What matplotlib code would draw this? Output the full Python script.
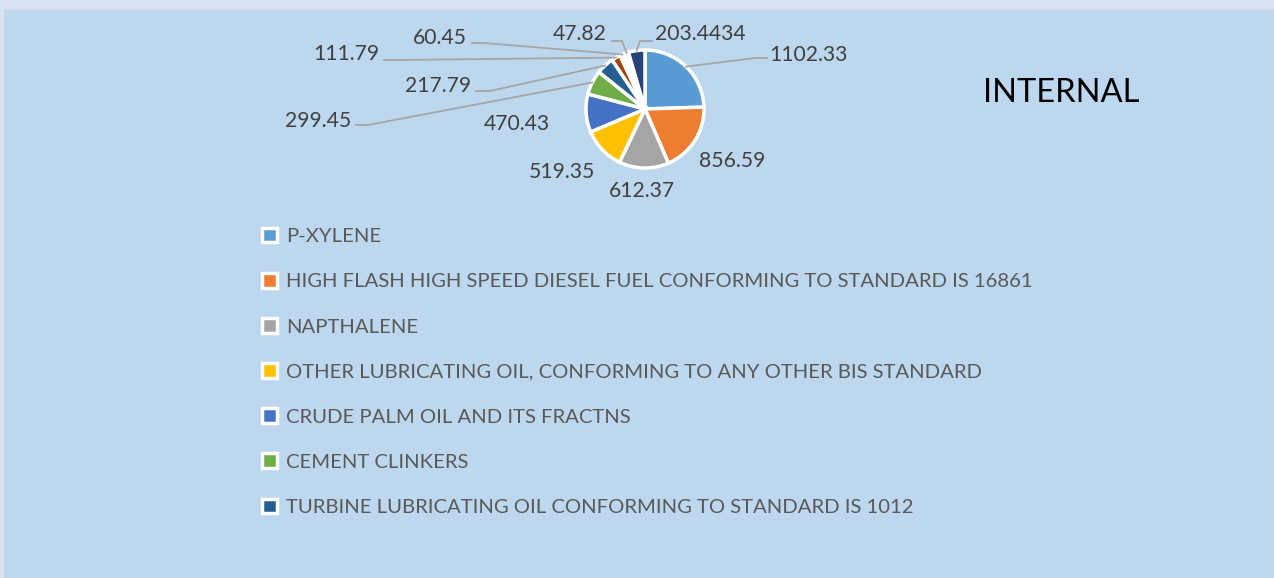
import matplotlib
matplotlib.use("Agg")
import matplotlib.pyplot as plt
from matplotlib.patches import Rectangle
import numpy as np

plt.rcParams['font.family'] = ['Lato', 'DejaVu Sans']

# ---- data ----
categories = [
    "P-XYLENE",
    "HIGH FLASH HIGH SPEED DIESEL FUEL CONFORMING TO STANDARD IS 16861",
    "NAPTHALENE",
    "OTHER LUBRICATING OIL, CONFORMING TO ANY OTHER BIS STANDARD",
    "CRUDE PALM OIL AND ITS FRACTNS",
    "CEMENT CLINKERS",
    "TURBINE LUBRICATING OIL CONFORMING TO STANDARD IS 1012",
    "OTHER 8",
    "OTHER 9",
    "OTHER 10",
    "OTHER 11",
]
values = [1102.33, 856.59, 612.37, 519.35, 470.43, 299.45, 217.79, 111.79, 60.45, 47.82, 203.4434]
value_labels = ["1102.33", "856.59", "612.37", "519.35", "470.43", "299.45", "217.79",
                "111.79", "60.45", "47.82", "203.4434"]
legend_count = 7
title = "INTERNAL"

colors = ["#5B9BD5", "#ED7D31", "#A5A5A5", "#FFC000", "#4472C4", "#70AD47", "#255E91",
          "#9E480E", "#FFFFFF", "#FFFFFF", "#264478"]

# label placement (pixel coords, y from top): text center, line start, stub end (None = no leader)
W, H = 1274, 578
label_pos = [(808, 55), (732, 161), (642, 191), (562, 172), (517, 124), (318, 121),
             (438, 86), (346, 54), (440, 38), (580, 34), (700, 34)]
line_start = [(767, 58), None, None, None, None, (356, 125), (476, 91), (384, 60),
              (472, 43), (612, 41), (652, 41)]
stub_end = [(755, 58), None, None, None, None, (368, 125), (490, 91), (396, 60),
            (484, 43), (622, 41), (640, 41)]

fig = plt.figure(figsize=(W / 100, H / 100), dpi=100)
fig.patch.set_facecolor("#DAE3F3")
ax = fig.add_axes([0, 0, 1, 1])

def P(x, y):
    return (x, H - y)

cx, cy = P(645, 109)
r = 59
wedges, _ = ax.pie(values, colors=colors, startangle=90, counterclock=False,
                   center=(cx, cy), radius=r, frame=True,
                   wedgeprops=dict(edgecolor="white", linewidth=2.5))
ax.set_xlim(0, W)
ax.set_ylim(0, H)
ax.set_aspect("equal")
ax.axis("off")

# chart area background
ax.add_patch(Rectangle(P(4, H), W - 4, H - 9, facecolor="#BDD7EE",
                       edgecolor="#D0D8E0", linewidth=1, zorder=0))

for i, w in enumerate(wedges):
    tx, ty = P(*label_pos[i])
    ax.text(tx, ty, value_labels[i], ha="center", va="center", fontsize=15.2,
            color="#404040", zorder=5)
    if line_start[i] is not None:
        mid = np.deg2rad((w.theta1 + w.theta2) / 2)
        ex, ey = cx + r * np.cos(mid), cy + r * np.sin(mid)
        sx, sy = P(*line_start[i])
        bx, by = P(*stub_end[i])
        ax.plot([sx, bx, ex], [sy, by, ey], color="#A6A6A6", linewidth=1.3, zorder=4)

ax.text(*P(1061, 93), title, ha="center", va="center", fontsize=23.5, color="#000000")

leg = ax.legend(wedges[:legend_count], categories[:legend_count],
                loc="upper left", bbox_to_anchor=(262 / W, 1 - 228 / H),
                frameon=False, fontsize=14.6, labelcolor="#595959",
                handlelength=0.72, handleheight=0.72, handletextpad=0.45,
                labelspacing=1.37, borderpad=0, borderaxespad=0)

fig.savefig("out.png", dpi=100, facecolor=fig.get_facecolor())
